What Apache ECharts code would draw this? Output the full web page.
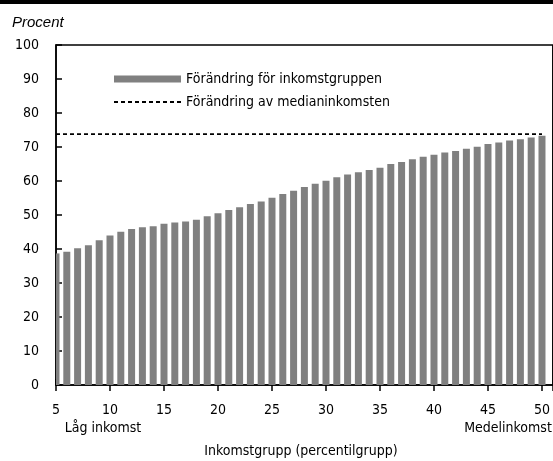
<!DOCTYPE html>
<html>
<head>
<meta charset="utf-8">
<script src="https://cdn.jsdelivr.net/npm/echarts@6/dist/echarts.min.js"></script>
<style>
html,body{margin:0;padding:0;background:#fff;}
#chart{width:553px;height:461px;}
</style>
</head>
<body>
<div id="chart"></div>
<script>
// Percentile groups (x values)
const percentiles = [5,6,7,8,9,10,11,12,13,14,15,16,17,18,19,20,21,22,23,24,25,26,27,28,29,30,
  31,32,33,34,35,36,37,38,39,40,41,42,43,44,45,46,47,48,49,50];
// Change for the income group (percent)
const groupChange = [38.7,39.2,40.2,41.1,42.6,44.0,45.1,45.9,46.4,46.7,47.4,47.8,48.1,48.6,49.6,50.5,
  51.5,52.3,53.2,54.0,55.1,56.2,57.1,58.2,59.2,60.1,61.1,61.9,62.6,63.2,63.9,65.0,65.6,66.4,67.1,67.7,
  68.4,68.8,69.5,70.1,70.9,71.3,71.9,72.3,72.8,73.3];
// Change of the median income (percent)
const medianChange = 73.8;
const xTickInterval = 5;
const yTicks = [0,10,20,30,40,50,60,70,80,90,100];

const FONT = "'DejaVu Sans Condensed', 'Liberation Sans Narrow', 'Liberation Sans', sans-serif";
const BAR_COLOR = '#808080';
const BAR_W = 7;
const chart = echarts.init(document.getElementById('chart'), null, {renderer: 'canvas'});

const xMin = percentiles[0], xMax = 51;

function renderBar(params, api) {
  const x = api.value(0), y = api.value(1);
  const top = api.coord([x, y]);
  const base = api.coord([x, 0]);
  const cs = params.coordSys;
  const rect = echarts.graphic.clipRectByRect(
    {x: top[0] - BAR_W / 2, y: top[1], width: BAR_W, height: base[1] - top[1]},
    {x: cs.x, y: cs.y, width: cs.width, height: cs.height}
  );
  if (!rect) return null;
  return {type: 'rect', shape: rect, style: {fill: BAR_COLOR}};
}

chart.setOption({
  animation: false,
  backgroundColor: '#fff',
  grid: {
    left: 56, top: 45, bottom: 76, right: -8,
    show: true, borderColor: '#000', borderWidth: 1.5, backgroundColor: 'transparent'
  },
  legend: {
    orient: 'vertical',
    left: 113, top: 72, padding: 0,
    itemWidth: 67, itemHeight: 7, itemGap: 9,
    textStyle: {fontFamily: FONT, fontSize: 14, color: '#000'},
    data: [
      {name: 'Förändring för inkomstgruppen', icon: 'rect', itemStyle: {color: BAR_COLOR}},
      {name: 'Förändring av medianinkomsten', itemStyle: {opacity: 0}}
    ]
  },
  xAxis: [{
    type: 'value', min: xMin, max: xMax, interval: xTickInterval,
    axisLine: {show: true, onZero: false, lineStyle: {color: '#000', width: 1.5}},
    axisTick: {show: true, inside: true, length: 6, lineStyle: {color: '#000', width: 1.5}},
    axisLabel: {show: true, margin: 18, fontFamily: FONT, fontSize: 14, color: '#000', showMaxLabel: false},
    splitLine: {show: false}
  }, {
    type: 'value', min: xMin, max: xMax, interval: xTickInterval, position: 'bottom',
    axisLine: {show: false},
    axisTick: {show: true, inside: false, length: 6, lineStyle: {color: '#000', width: 1.5}},
    axisLabel: {show: false},
    splitLine: {show: false}
  }],
  yAxis: {
    type: 'value', min: yTicks[0], max: yTicks[yTicks.length-1], interval: 10,
    axisLine: {show: true, lineStyle: {color: '#000', width: 1.5}},
    axisTick: {show: true, inside: true, length: 6, lineStyle: {color: '#000', width: 1.5}},
    axisLabel: {margin: 17, fontFamily: FONT, fontSize: 14, color: '#000'},
    splitLine: {show: false}
  },
  series: [{
    name: 'Förändring för inkomstgruppen',
    type: 'custom',
    xAxisIndex: 0,
    renderItem: renderBar,
    itemStyle: {color: BAR_COLOR},
    encode: {x: 0, y: 1},
    data: percentiles.map((p, i) => [p, groupChange[i]]),
    z: 2
  }, {
    name: 'Förändring av medianinkomsten',
    type: 'line',
    xAxisIndex: 0,
    symbol: 'none',
    lineStyle: {color: '#000', width: 1.8, type: [4, 3]},
    itemStyle: {color: '#000'},
    data: [[percentiles[0], medianChange], [percentiles[percentiles.length-1], medianChange]],
    z: 5
  }],
  graphic: [
    {type: 'rect', left: 0, top: 0, shape: {width: 553, height: 4}, style: {fill: '#000'}},
    {type: 'text', left: 12, top: 15, style: {text: 'Procent', fontFamily: "'Liberation Sans', Arial, sans-serif", fontStyle: 'italic', fontSize: 15, fill: '#000'}},
    {type: 'text', x: 103, y: 428, style: {text: 'Låg inkomst', fontFamily: FONT, fontSize: 14, fill: '#000', textAlign: 'center', textVerticalAlign: 'middle'}},
    {type: 'text', x: 508, y: 428, style: {text: 'Medelinkomst', fontFamily: FONT, fontSize: 14, fill: '#000', textAlign: 'center', textVerticalAlign: 'middle'}},
    {type: 'text', x: 301, y: 451, style: {text: 'Inkomstgrupp (percentilgrupp)', fontFamily: FONT, fontSize: 14, fill: '#000', textAlign: 'center', textVerticalAlign: 'middle'}}
  ]
});
</script>
</body>
</html>
